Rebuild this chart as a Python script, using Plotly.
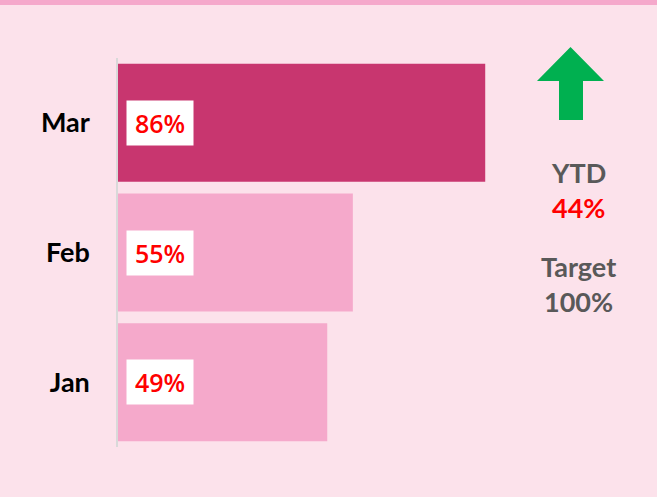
import plotly.graph_objects as go

# Monthly achievement vs target
months = ["Jan", "Feb", "Mar"]
achieved = [0.49, 0.55, 0.86]
bar_colors = ["#F5A9CB", "#F5A9CB", "#C8366F"]
ytd_value = 0.44
target_value = 1.00

BG = "#FCE2EB"
W, H = 657, 497
ML, MR, MT, MB = 118, 112, 58, 50
PW, PH = W - ML - MR, H - MT - MB


def px_x(p):
    return (p - ML) / PW


def px_y(p):
    return (H - MB - p) / PH


fig = go.Figure()
fig.add_trace(go.Bar(
    y=months, x=achieved, orientation="h",
    marker=dict(color=bar_colors, line=dict(width=0)),
    hoverinfo="skip",
))

# value labels in white boxes near the bar base
for m, v in zip(months, achieved):
    fig.add_annotation(
        x=px_x(160), xref="paper", y=m, yref="y",
        text=f"{v:.0%}", showarrow=False,
        font=dict(family="Open Sans", size=25, color="#FF0000", weight=600),
        bgcolor="white", width=66, height=44, borderpad=0,
        xanchor="center", yanchor="middle",
    )

# right-hand summary
summary = [
    ("YTD", "#595959", 172),
    (f"{ytd_value:.0%}", "#FF0000", 207),
    ("Target", "#595959", 266),
    (f"{target_value:.0%}", "#595959", 301),
]
for txt, col, yp in summary:
    fig.add_annotation(
        x=px_x(578), xref="paper", y=px_y(yp), yref="paper",
        text=f"<b>{txt}</b>", showarrow=False,
        font=dict(family="Lato", size=27, color=col),
        xanchor="center", yanchor="middle",
    )

# green up arrow
pts = [(537, 81), (570.5, 47), (604, 81), (583, 81), (583, 120), (559, 120), (559, 81)]
path = "M " + " L ".join(f"{px_x(a):.5f},{px_y(b):.5f}" for a, b in pts) + " Z"
fig.add_shape(type="path", path=path, xref="paper", yref="paper",
              fillcolor="#00B050", line=dict(width=0))

# top accent strip
fig.add_shape(type="rect", xref="paper", yref="paper",
              x0=px_x(0), x1=px_x(W), y0=px_y(5), y1=px_y(0),
              fillcolor="#F5A8CB", line=dict(width=0), layer="below")

fig.update_layout(
    width=W, height=H,
    margin=dict(l=ML, r=MR, t=MT, b=MB),
    paper_bgcolor=BG, plot_bgcolor=BG,
    showlegend=False, bargap=0.09,
    xaxis=dict(range=[0, 1], visible=False),
    yaxis=dict(
        categoryorder="array", categoryarray=months,
        showline=True, linecolor="#D9D9D9", linewidth=1.5,
        showgrid=False, zeroline=False, ticks="",
        ticklabelstandoff=21,
        tickfont=dict(family="Lato", size=27, color="#000000", weight="bold"),
    ),
)

fig.write_html("out.html")
